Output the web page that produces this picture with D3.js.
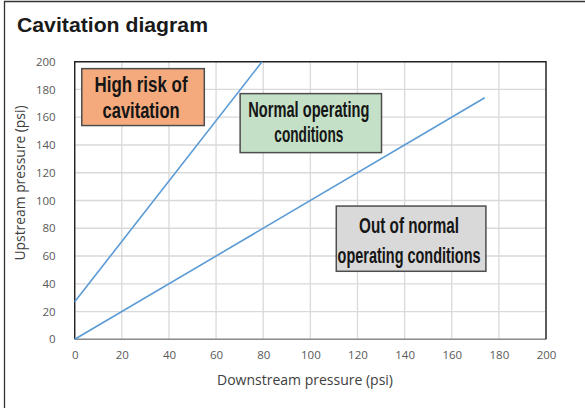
<!DOCTYPE html>
<html><head><meta charset="utf-8">
<script src="https://cdn.jsdelivr.net/npm/d3@7"></script>
<style>body{margin:0;background:#fff}svg{display:block}</style>
</head><body>
<svg id="c" width="585" height="408"></svg>
<script>
const title = "Cavitation diagram";
const xTicks = [0,20,40,60,80,100,120,140,160,180,200];
const yTicks = [0,20,40,60,80,100,120,140,160,180,200];
const xLabel = "Downstream pressure (psi)";
const yLabel = "Upstream pressure (psi)";
const cavitationLine = [[0,27],[79.5,200]];
const operatingLine = [[0,0],[174,174]];
const regionNames = ["High risk of cavitation","Normal operating conditions","Out of normal operating conditions"];
const regionLines = [["High risk of","cavitation"],["Normal operating","conditions"],["Out of normal","operating conditions"]];
// anchor positions in data units (box corners: x0,y0(top),x1,y1(bottom))
const regionBoxes = [[3,195,55,154],[70.2,177,130.2,134.5],[111,96,174.5,49]];
const regionFills = ["#F4AA7D","#C4E0C7","#D9D9D9"];
const lineWidths = [[93,77],[121,69],[100,143]];

const svg = d3.select("#c");
const m = {l:74.7,r:546,t:61.7,b:339.3};
const x = d3.scaleLinear().domain([0,200]).range([m.l,m.r]);
const y = d3.scaleLinear().domain([0,200]).range([m.b,m.t]);

// outer frame
svg.append("path").attr("d","M585,1.5 H4.5 V408").attr("fill","none").attr("stroke","#333").attr("stroke-width",1.3);

svg.append("text").attr("x",17).attr("y",31.5).text(title)
  .attr("font-family","Liberation Sans, Arial, sans-serif").attr("font-weight","bold")
  .attr("font-size",19.5).attr("fill","#1a1a1a").attr("textLength",191).attr("lengthAdjust","spacingAndGlyphs");

// grid
const g = svg.append("g");
g.selectAll("line.v").data(xTicks).join("line").attr("x1",d=>x(d)).attr("x2",d=>x(d))
  .attr("y1",m.t).attr("y2",m.b).attr("stroke","#d9d9d9").attr("stroke-width",1.3);
g.selectAll("line.h").data(yTicks).join("line").attr("y1",d=>y(d)).attr("y2",d=>y(d))
  .attr("x1",m.l).attr("x2",m.r).attr("stroke","#d9d9d9").attr("stroke-width",1.3);

// axes
const xa = svg.append("g").attr("transform",`translate(0,${m.b})`).call(d3.axisBottom(x).tickValues(xTicks).tickSize(0).tickPadding(12));
const ya = svg.append("g").attr("transform",`translate(${m.l},0)`).call(d3.axisLeft(y).tickValues(yTicks).tickSize(0).tickPadding(19));
[xa,ya].forEach(a=>{a.select(".domain").remove();
  a.selectAll("text").attr("font-family","Open Sans, Noto Sans, sans-serif").attr("font-size",11.5).attr("fill","#595959");});

// plot border
svg.append("line").attr("x1",m.l).attr("x2",m.r).attr("y1",m.b).attr("y2",m.b).attr("stroke","#8c8c8c").attr("stroke-width",1.6);
svg.append("path").attr("d",`M${m.l},${m.b} V${m.t} H${m.r} V${m.b}`).attr("fill","none").attr("stroke","#222").attr("stroke-width",1.4);

// lines
const lg = d3.line().x(d=>x(d[0])).y(d=>y(d[1]));
[cavitationLine,operatingLine].forEach(d=>{
  svg.append("path").attr("d",lg(d)).attr("fill","none").attr("stroke","#5B9BD5").attr("stroke-width",1.6);
});

// text boxes
const baselineOffsets = [[23,49.5],[23,48.5],[27,56.5]];
regionBoxes.forEach((b,i)=>{
  const x0=x(b[0]), x1=x(b[2]), y0=y(b[1]), y1=y(b[3]);
  const grp = svg.append("g").attr("class","region").attr("data-name",regionNames[i]);
  grp.append("rect").attr("x",x0).attr("y",y0).attr("width",x1-x0).attr("height",y1-y0)
    .attr("fill",regionFills[i]).attr("stroke","#4d4d4d").attr("stroke-width",1.5);
  regionLines[i].forEach((t,j)=>{
    grp.append("text").attr("x",(x0+x1)/2-2).attr("y",y0+baselineOffsets[i][j]).attr("text-anchor","middle")
      .text(t).attr("font-family","Liberation Sans Narrow, Arial Narrow, sans-serif").attr("font-weight","bold")
      .attr("font-size",22).attr("fill","#151515")
      .attr("textLength",lineWidths[i][j]).attr("lengthAdjust","spacingAndGlyphs");
  });
});

// axis titles
svg.append("text").attr("x",305).attr("y",385).attr("text-anchor","middle").text(xLabel)
  .attr("font-family","Open Sans, Noto Sans, sans-serif").attr("font-size",14).attr("fill","#404040")
  .attr("textLength",176).attr("lengthAdjust","spacingAndGlyphs");
svg.append("text").attr("transform","translate(24.5,183) rotate(-90)").attr("text-anchor","middle").text(yLabel)
  .attr("font-family","Open Sans, Noto Sans, sans-serif").attr("font-size",14).attr("fill","#404040")
  .attr("textLength",155).attr("lengthAdjust","spacingAndGlyphs");
</script>
</body></html>
